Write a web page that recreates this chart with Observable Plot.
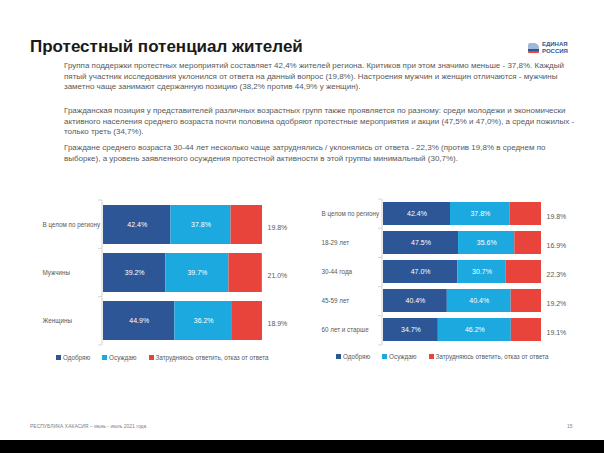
<!DOCTYPE html>
<html>
<head>
<meta charset="utf-8">
<script src="https://cdn.jsdelivr.net/npm/d3@7"></script>
<script src="https://cdn.jsdelivr.net/npm/@observablehq/plot@0.6"></script>
<style>
  html, body { margin: 0; padding: 0; background: #fff; }
  #page { position: relative; width: 604px; height: 453px; overflow: hidden; background: #fff; font-family: "Liberation Sans", Arial, sans-serif; }
  .abs { position: absolute; }
  #title { left: 30px; top: 37px; font-size: 17px; font-weight: bold; color: #1a1a1a; line-height: 20px; white-space: nowrap; }
  .para { left: 64px; font-size: 8px; line-height: 10.7px; color: #595959; white-space: nowrap; }
  .legend { display: flex; align-items: center; font-size: 6.3px; color: #595959; white-space: nowrap; }
  .legend .item { display: flex; align-items: center; margin-right: 12px; }
  .legend .sw { width: 5px; height: 5px; margin-right: 2px; }
  #footer { left: 30px; top: 423px; font-size: 5px; color: #7f7f7f; white-space: nowrap; }
  #pnum { left: 567px; top: 423px; font-size: 5px; color: #7f7f7f; }
  #band { left: 0; top: 440px; width: 604px; height: 13px; background: #000; }
  #logo { left: 528px; top: 41px; display: flex; align-items: center; }
  #logo .icon { width: 11px; height: 10px; margin-right: 3px; background: linear-gradient(#9fb8d8 0 55%, #2c5696 55% 78%, #e9443b 78%); border-radius: 2px 5px 1px 1px; }
  #logo .txt { font-size: 6px; font-weight: bold; color: #2c5696; line-height: 6.5px; }
</style>
</head>
<body>
<div id="page">
  <div id="title" class="abs">Протестный потенциал жителей</div>
  <div id="logo" class="abs"><div class="icon"></div><div class="txt">ЕДИНАЯ<br>РОССИЯ</div></div>
  <div id="p1" class="abs para" style="top:61px"></div>
  <div id="p2" class="abs para" style="top:106px"></div>
  <div id="p3" class="abs para" style="top:143px"></div>
  <div id="leftChart" class="abs" style="left:30px; top:190px"></div>
  <div id="rightChart" class="abs" style="left:310px; top:190px"></div>
  <div id="leftLegend" class="abs legend" style="left:56px; top:354px"></div>
  <div id="rightLegend" class="abs legend" style="left:336px; top:353px"></div>
  <div id="footer" class="abs">РЕСПУБЛИКА ХАКАСИЯ – июнь - июль 2021 года</div>
  <div id="pnum" class="abs">15</div>
  <div id="band" class="abs"></div>
</div>
<script>
// ---- Text ----
const para1 = [
  "Группа поддержки протестных мероприятий составляет 42,4% жителей региона. Критиков при этом значимо меньше - 37,8%. Каждый",
  "пятый участник исследования уклонился от ответа на данный вопрос (19,8%). Настроения мужчин и женщин отличаются - мужчины",
  "заметно чаще занимают сдержанную позицию (38,2% против 44,9% у женщин)."
];
const para2 = [
  "Гражданская позиция у представителей различных возрастных групп также проявляется по разному: среди молодежи и экономически",
  "активного населения среднего возраста почти половина одобряют протестные мероприятия и акции (47,5% и 47,0%), а среди пожилых -",
  "только треть (34,7%)."
];
const para3 = [
  "Граждане среднего возраста 30-44 лет несколько чаще затруднялись / уклонялись от ответа - 22,3% (против 19,8% в среднем по",
  "выборке), а уровень заявленного осуждения протестной активности в этой группы минимальный (30,7%)."
];

// ---- Data ----
const seriesNames = ["Одобряю", "Осуждаю", "Затрудняюсь ответить, отказ от ответа"];
const seriesColors = ["#2c5696", "#1ca9e0", "#e9443b"];

const leftCats = ["В целом по региону", "Мужчины", "Женщины"];
const leftApprove = [42.4, 39.2, 44.9];
const leftCondemn = [37.8, 39.7, 36.2];
const leftHard = [19.8, 21.0, 18.9];

const rightCats = ["В целом по региону", "18-29 лет", "30-44 года", "45-59 лет", "60 лет и старше"];
const rightApprove = [42.4, 47.5, 47.0, 40.4, 34.7];
const rightCondemn = [37.8, 35.6, 30.7, 40.4, 46.2];
const rightHard = [19.8, 16.9, 22.3, 19.2, 19.1];

function fillPara(id, lines) {
  const el = document.getElementById(id);
  lines.forEach(l => { const d = document.createElement("div"); d.textContent = l; el.appendChild(d); });
}
fillPara("p1", para1); fillPara("p2", para2); fillPara("p3", para3);

const fmt = v => v.toFixed(1) + "%";

function chart({cats, a, c, h, width, height, mt, mb, ml, mr, labelDx, padding}) {
  const data = [];
  cats.forEach((cat, i) => {
    [a[i], c[i], h[i]].forEach((v, j) => data.push({cat, series: seriesNames[j], value: v}));
  });
  const n = cats.length;
  return Plot.plot({
    width, height,
    marginTop: mt, marginBottom: mb, marginLeft: ml, marginRight: mr,
    x: {domain: [0, 100], axis: null},
    y: {domain: cats, paddingInner: padding, paddingOuter: padding / 2, axis: null},
    color: {domain: seriesNames, range: seriesColors},
    style: {fontFamily: "'Liberation Sans', Arial, sans-serif", background: "transparent", overflow: "visible"},
    marks: [
      Plot.barX(data, Plot.stackX({x: "value", y: "cat", fill: "series"})),
      Plot.text(data.filter(d => d.series !== seriesNames[2]), Plot.stackX({
        x: "value", y: "cat", z: "series", text: d => fmt(d.value),
        fill: "white", fontSize: 7
      })),
      Plot.text(data.filter(d => d.series === seriesNames[2]), {
        y: "cat", text: d => fmt(d.value), frameAnchor: "right", textAnchor: "start",
        dx: 5, dy: 3, fill: "#595959", fontSize: 7
      }),
      Plot.text(cats, {
        y: d => d, text: d => d, frameAnchor: "left", textAnchor: "start",
        dx: labelDx, fill: "#595959", fontSize: 6.3
      }),
      Plot.ruleX([0], {stroke: "#c8c8c8", strokeWidth: 0.8, dx: -1.5}),
      (index, scales, values, dim) => {
        const top = dim.marginTop, bot = dim.height - dim.marginBottom;
        const step = (bot - top) / n;
        const g = d3.create("svg:g").attr("stroke", "#c8c8c8").attr("stroke-width", 0.8);
        d3.range(n + 1).forEach(k => {
          g.append("line").attr("x1", dim.marginLeft - 5).attr("x2", dim.marginLeft - 1.5)
            .attr("y1", top + k * step).attr("y2", top + k * step);
        });
        return g.node();
      }
    ]
  });
}

document.getElementById("leftChart").append(chart({
  cats: leftCats, a: leftApprove, c: leftCondemn, h: leftHard,
  width: 260, height: 160, mt: 10, mb: 5, ml: 73, mr: 28, labelDx: -61, padding: 0.185
}));
document.getElementById("rightChart").append(chart({
  cats: rightCats, a: rightApprove, c: rightCondemn, h: rightHard,
  width: 280, height: 160, mt: 9, mb: 5, ml: 73, mr: 49, labelDx: -62, padding: 0.19
}));

function legend(id) {
  const el = document.getElementById(id);
  seriesNames.forEach((s, i) => {
    const it = document.createElement("div"); it.className = "item";
    const sw = document.createElement("div"); sw.className = "sw"; sw.style.background = seriesColors[i];
    const t = document.createElement("span"); t.textContent = s;
    it.append(sw, t); el.appendChild(it);
  });
}
legend("leftLegend"); legend("rightLegend");
</script>
</body>
</html>
